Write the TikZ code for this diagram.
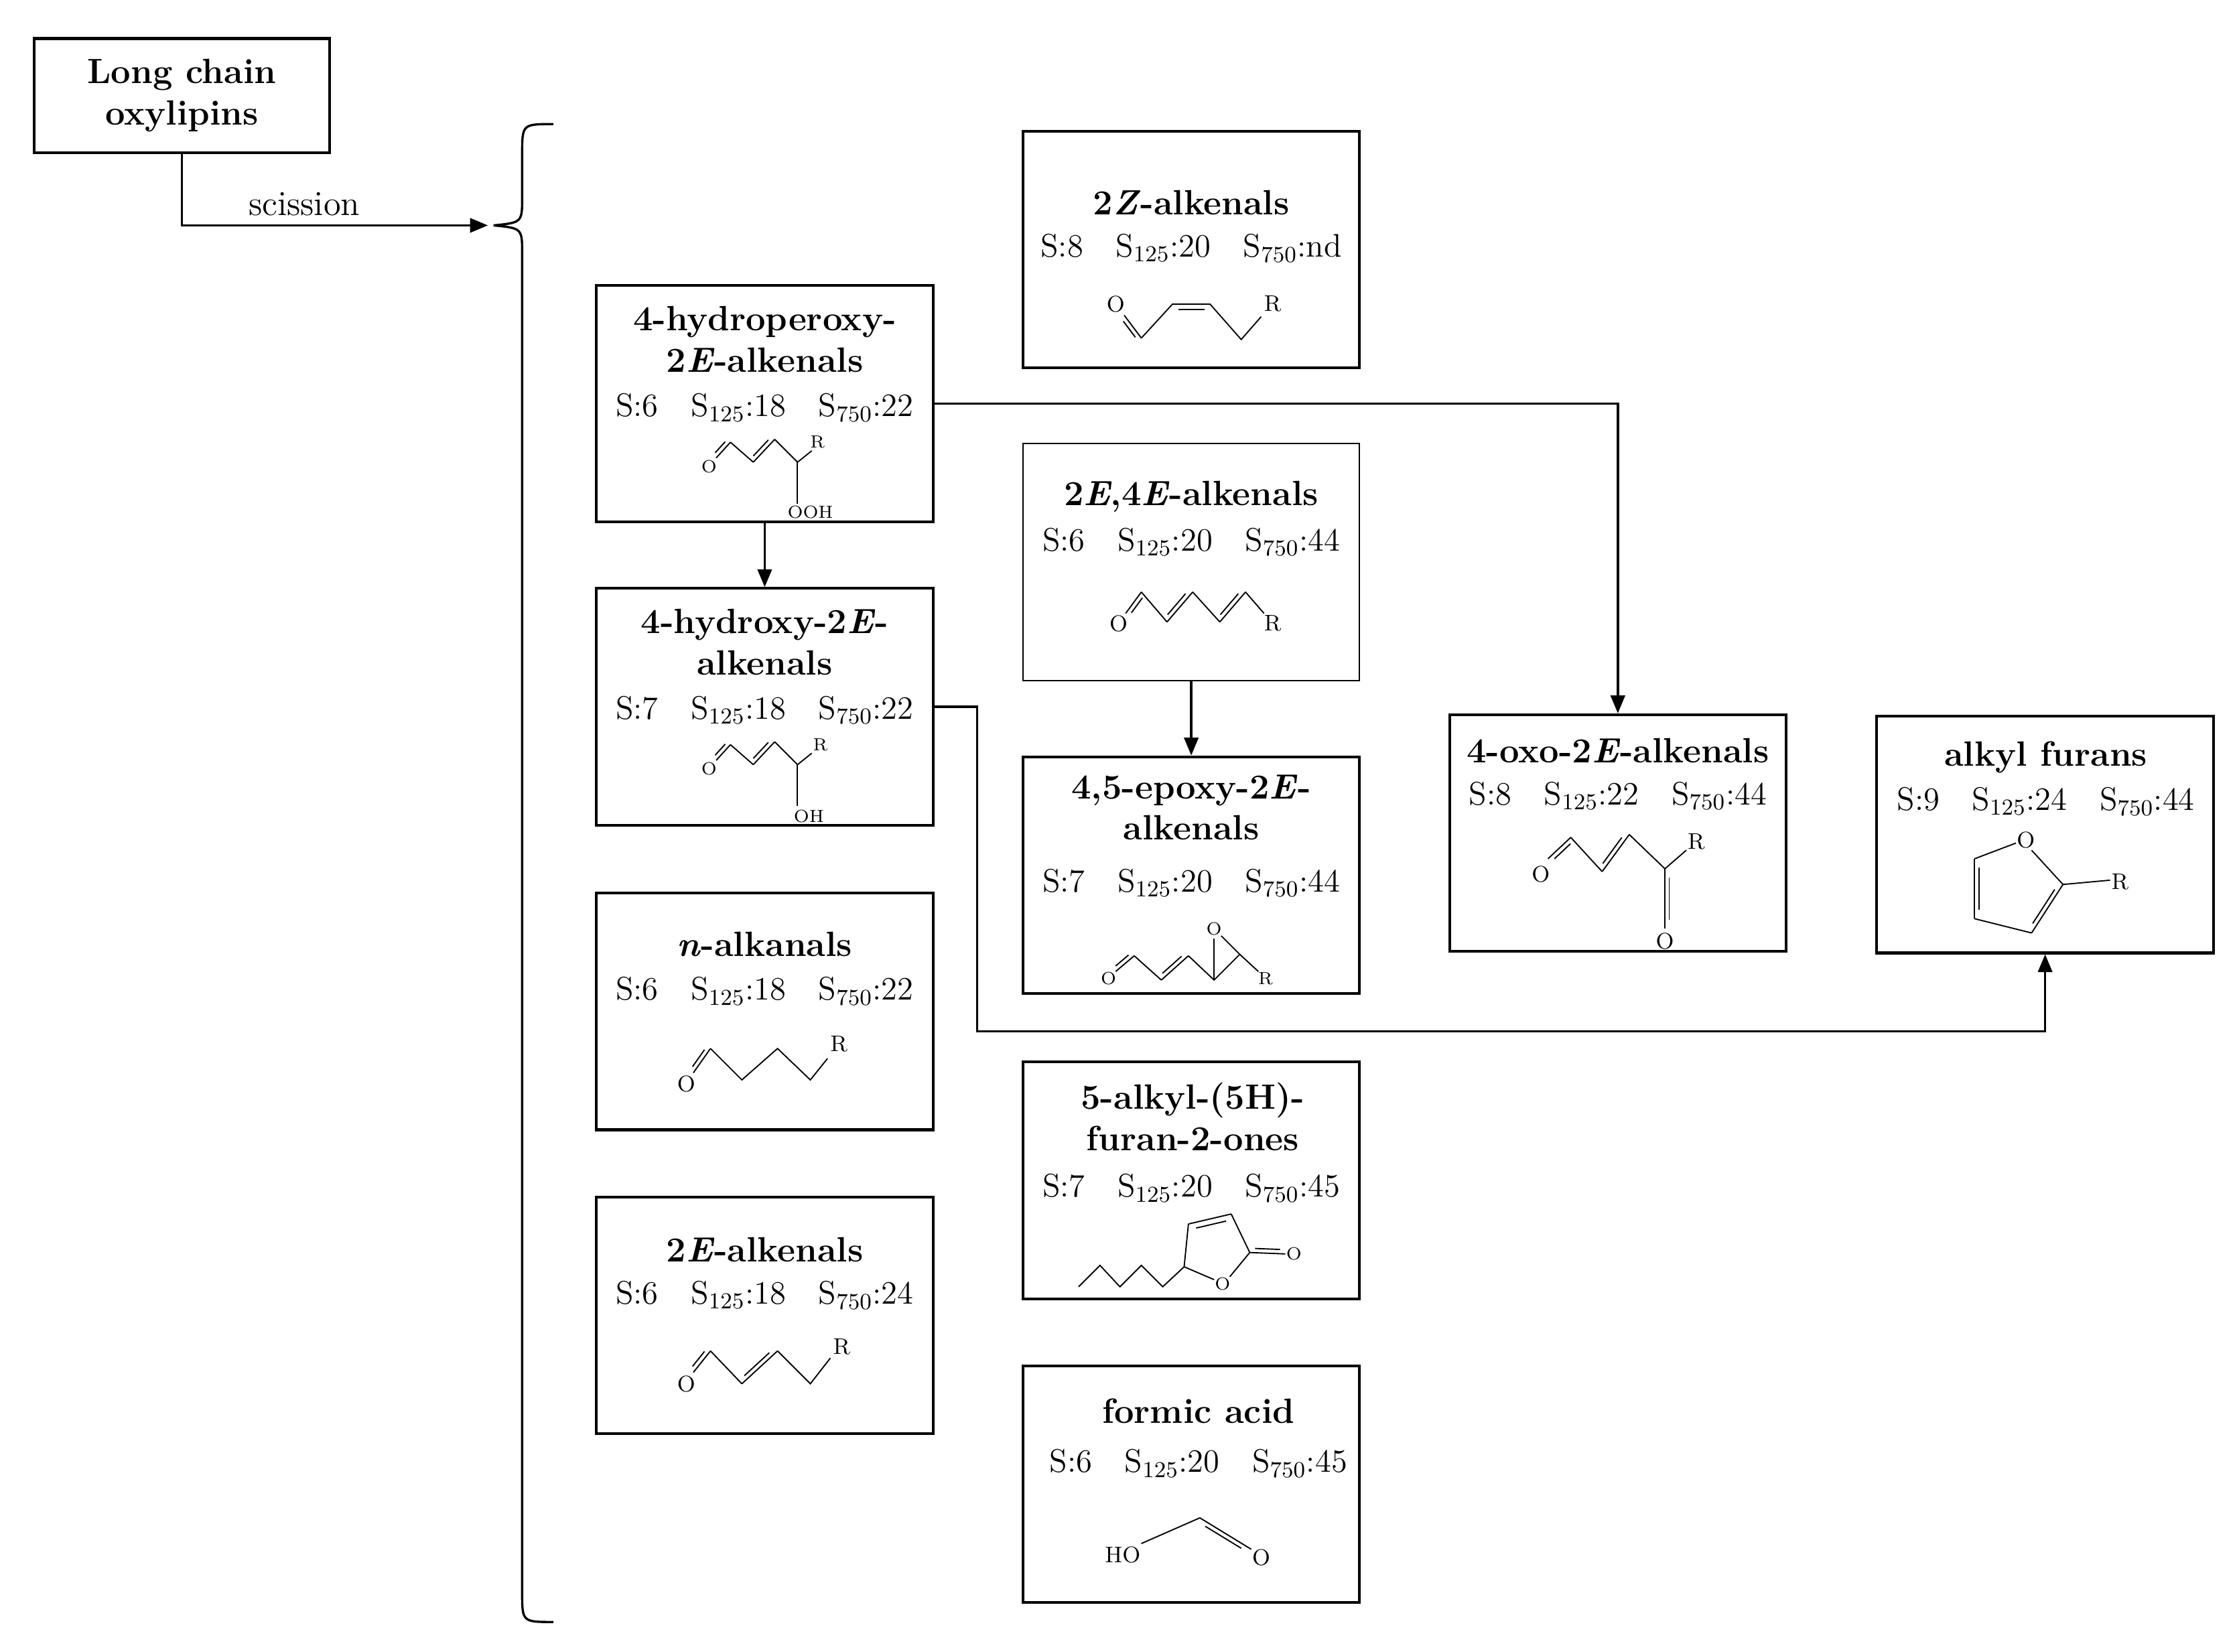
\documentclass[tikz,border=0pt]{standalone}
\usepackage{tikz}
\usetikzlibrary{arrows.meta,positioning,calc}

\newcommand{\svals}[3]{S:#1\quad S\textsubscript{125}:#2\quad S\textsubscript{750}:#3}
\newcommand{\dbond}[3]{\draw #1 -- #2; \draw[shift={#3}] ($#1!.15!#2$) -- ($#2!.15!#1$);}

\begin{document}
\begin{tikzpicture}[x=0.02cm, y=-0.02cm,
  box/.style={rectangle, draw, line width=1.1pt, minimum width=4.72cm, minimum height=3.32cm, inner sep=0pt},
  title/.style={align=center, font=\fontsize{14}{16.5}\selectfont\bfseries},
  vals/.style={font=\fontsize{13}{15}\selectfont},
  atom/.style={inner sep=0pt, font=\fontsize{9}{9}\selectfont},
  arrow/.style={-{Triangle[length=2.5mm, width=2mm]}, line width=0.9pt},
  chem/.style={line width=0.5pt}
]
  \useasboundingbox (0,0) rectangle (1568,1158);

  % top left
  \node[draw, line width=1.1pt, minimum width=4.14cm, minimum height=1.6cm, title] (lco) at (127.5,67) {Long chain\\oxylipins};
  \coordinate (tip) at (342,158);
  \draw[arrow] (lco.south) |- node[above, pos=0.7, font=\fontsize{14}{16}\selectfont] {scission} (tip);
  \draw[line width=0.9pt] (388,87) .. controls (366,87) .. (366,108) -- (366,138)
    .. controls (366,156) .. (346,158) .. controls (366,160) .. (366,178)
    -- (366,1116) .. controls (366,1137) .. (388,1137);

  % boxes
  \node[box] (z2)  at (835,175) {};
  \node[box] (hpx) at (536,283) {};
  \node[box] (hdx) at (536,495.5) {};
  \node[box, line width=0.6pt] (ee) at (835,394) {};
  \node[box] (epx) at (835,613.5) {};
  \node[box] (oxo) at (1134,584) {};
  \node[box] (fur) at (1433.5,585) {};
  \node[box] (nal) at (536,709) {};
  \node[box] (fon) at (835,827.5) {};
  \node[box] (e2)  at (536,922) {};
  \node[box] (frm) at (835,1040.5) {};

  % texts
  \node[title] at (835,142) {2\textit{Z}-alkenals};
  \node[vals] at (835,174) {S:8\quad S\textsubscript{125}:20\quad S\textsubscript{750}:nd};
  \node[title] at (536,238) {4-hydroperoxy-\\2\textit{E}-alkenals};
  \node[vals] at (536,286) {\svals{6}{18}{22}};
  \node[title] at (536,450) {4-hydroxy-2\textit{E}-\\alkenals};
  \node[vals] at (536,498) {\svals{7}{18}{22}};
  \node[title] at (835,348) {2\textit{E},4\textit{E}-alkenals};
  \node[vals] at (835,380) {\svals{6}{20}{44}};
  \node[title] at (835,566) {4,5-epoxy-2\textit{E}-\\alkenals};
  \node[vals] at (835,619) {\svals{7}{20}{44}};
  \node[title] at (1134,526) {4-oxo-2\textit{E}-alkenals};
  \node[vals] at (1134,558) {\svals{8}{22}{44}};
  \node[title] at (1434,531) {alkyl furans};
  \node[vals] at (1434,562) {\svals{9}{24}{44}};
  \node[title] at (536,662) {\textit{n}-alkanals};
  \node[vals] at (536,695) {\svals{6}{18}{22}};
  \node[title] at (836,783) {5-alkyl-(5H)-\\furan-2-ones};
  \node[vals] at (835,833) {\svals{7}{20}{45}};
  \node[title] at (536,876) {2\textit{E}-alkenals};
  \node[vals] at (536,908) {\svals{6}{18}{24}};
  \node[title] at (840,989) {formic acid};
  \node[vals] at (840,1026) {\svals{6}{20}{45}};

  % connectors
  \draw[arrow] (hpx.east) -| (oxo.north);
  \draw[arrow] (hpx.south) -- (hdx.north);
  \draw[arrow] (ee.south) -- (epx.north);
  \draw[arrow] (hdx.east) -- ++(30,0) |- ($(fur.south)+(0,54)$) -| (fur.south);

  % structures
  \begin{scope}[chem]
    % 2Z
    \node[atom] at (782,213) {O};
    \dbond{(788,221)}{(800,237)}{(-2.4,1.8)}
    \draw (800,237) -- (822,213);
    \dbond{(822,213)}{(848,213)}{(0,4)}
    \draw (848,213) -- (870,238) -- (884,222);
    \node[atom] at (892,213) {R};
    % hydroperoxy
    \node[atom, font=\fontsize{7}{7}\selectfont] at (497,327) {O};
    \dbond{(502,321)}{(512,310)}{(-2.2,-2)}
    \draw (512,310) -- (528,324);
    \dbond{(528,324)}{(543,308)}{(-2.2,-2)}
    \draw (543,308) -- (559,324) -- (569,316);
    \node[atom, font=\fontsize{7}{7}\selectfont] at (573,310) {R};
    \draw (559,324) -- (559,353);
    \node[atom, font=\fontsize{7}{7}\selectfont] at (568,359) {OOH};
    % hydroxy
    \node[atom, font=\fontsize{7}{7}\selectfont] at (497,539) {O};
    \dbond{(502,533)}{(512,522)}{(-2.2,-2)}
    \draw (512,522) -- (528,536);
    \dbond{(528,536)}{(543,520)}{(-2.2,-2)}
    \draw (543,520) -- (559,536) -- (569,528);
    \node[atom, font=\fontsize{7}{7}\selectfont] at (575,522) {R};
    \draw (559,536) -- (559,565);
    \node[atom, font=\fontsize{7}{7}\selectfont] at (567,572) {OH};
    % 2E,4E
    \node[atom] at (784,437) {O};
    \dbond{(789,430)}{(800,415)}{(2.4,1.8)}
    \draw (800,415) -- (818,436);
    \dbond{(818,436)}{(836,415)}{(-2.3,-2)}
    \draw (836,415) -- (855,436);
    \dbond{(855,436)}{(873,415)}{(-2.3,-2)}
    \draw (873,415) -- (886,430);
    \node[atom] at (892,437) {R};
    % epoxy
    \node[atom, font=\fontsize{7}{7}\selectfont] at (777,686) {O};
    \dbond{(782,681)}{(795,670)}{(-2,-2.2)}
    \draw (795,670) -- (814,687);
    \dbond{(814,687)}{(833,670)}{(-2,-2.2)}
    \draw (833,670) -- (851,687) -- (869,669) -- (856,656);
    \draw (851,687) -- (851,658);
    \node[atom, font=\fontsize{7}{7}\selectfont] at (851,651) {O};
    \draw (869,669) -- (882,681);
    \node[atom, font=\fontsize{7}{7}\selectfont] at (887,686) {R};
    % oxo
    \node[atom] at (1080,613) {O};
    \dbond{(1085,602)}{(1101,587)}{(2.2,2.2)}
    \draw (1101,587) -- (1123,611);
    \dbond{(1123,611)}{(1142,585)}{(-2.4,-1.8)}
    \draw (1142,585) -- (1167,609) -- (1182,596);
    \node[atom] at (1189,590) {R};
    \dbond{(1167,609)}{(1167,651)}{(3,0)}
    \node[atom] at (1167,660) {O};
    % furan
    \node[atom] at (1420,589) {O};
    \draw (1424,596) -- (1446,620);
    \dbond{(1446,620)}{(1424,654)}{(-2.5,-1.6)}
    \draw (1424,654) -- (1384,644);
    \dbond{(1384,644)}{(1384,602)}{(3,0)}
    \draw (1384,602) -- (1413,591);
    \draw (1446,620) -- (1479,617);
    \node[atom] at (1486,618) {R};
    % n-alkanals
    \node[atom] at (481,760) {O};
    \dbond{(486,752)}{(498,735)}{(-2.4,-1.7)}
    \draw (498,735) -- (520,757) -- (545,735) -- (568,757) -- (580,742);
    \node[atom] at (588,732) {R};
    % 2E
    \node[atom] at (481,970) {O};
    \dbond{(486,962)}{(498,947)}{(-2.4,-1.9)}
    \draw (498,947) -- (520,970);
    \dbond{(520,970)}{(545,947)}{(-2,-2.2)}
    \draw (545,947) -- (568,970) -- (582,952);
    \node[atom] at (590,944) {R};
    % furanone
    \draw (756,902) -- (771,887) -- (785,902) -- (800,887) -- (815,902) -- (830,888);
    \draw (830,888) -- (833,858);
    \dbond{(833,858)}{(863,851)}{(0.9,3.9)}
    \draw (863,851) -- (876,878) -- (862,895);
    \node[atom, font=\fontsize{7}{7}\selectfont] at (857,900) {O};
    \draw (851,897) -- (830,888);
    \dbond{(876,878)}{(901,879)}{(0,-3)}
    \node[atom, font=\fontsize{7}{7}\selectfont] at (907,879) {O};
    % formic acid
    \node[atom] at (787,1090) {HO};
    \draw (800,1082) -- (841,1064);
    \dbond{(841,1064)}{(877,1086)}{(-1.6,2.6)}
    \node[atom] at (884,1092) {O};
  \end{scope}
\end{tikzpicture}
\end{document}
